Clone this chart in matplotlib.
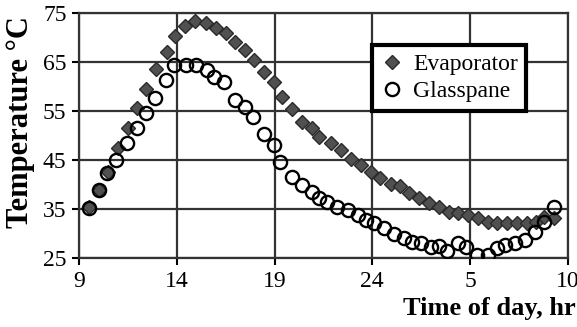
import matplotlib
matplotlib.use("Agg")
import matplotlib.pyplot as plt

# hours since midnight of day 1 (24+ means the next morning)
evap_time = [9.5, 10.0, 10.5, 11.0, 11.5, 11.95, 12.45, 12.95, 13.5, 13.9, 14.4, 14.95,
             15.5, 16.0, 16.5, 17.0, 17.5, 17.95, 18.45, 18.95, 19.4, 19.9, 20.4, 20.9,
             21.3, 21.9, 22.4, 22.9, 23.4, 23.95, 24.4, 24.95, 25.4, 25.9, 26.4, 26.9,
             27.4, 27.9, 28.4, 28.9, 29.4, 29.9, 30.4, 30.9, 31.4, 31.9, 32.4, 32.8, 33.3]
evap_temp = [35.4, 38.9, 42.6, 47.4, 51.5, 55.7, 59.6, 63.5, 67.1, 70.3, 72.3, 73.3,
             72.9, 71.9, 70.9, 69.1, 67.4, 65.4, 63.0, 61.0, 57.9, 55.5, 52.8, 51.5,
             49.8, 48.4, 47.0, 45.3, 44.0, 42.6, 41.3, 40.2, 39.6, 38.2, 37.2, 36.2,
             35.5, 34.4, 34.1, 33.8, 33.1, 32.4, 32.1, 32.1, 32.1, 32.1, 32.4, 33.4, 33.1]

glass_time = [9.5, 10.0, 10.45, 10.9, 11.45, 11.95, 12.45, 12.9, 13.45, 13.85, 14.45, 15.0,
              15.55, 15.9, 16.4, 17.0, 17.5, 17.9, 18.45, 18.95, 19.3, 19.9, 20.4, 20.9,
              21.3, 21.7, 22.2, 22.75, 23.25, 23.7, 24.1, 24.6, 25.1, 25.6, 26.05, 26.5,
              27.0, 27.4, 27.8, 28.4, 28.8, 29.35, 29.9, 30.4, 30.8, 31.3, 31.8, 32.3,
              32.8, 33.3]
glass_temp = [35.2, 38.8, 42.3, 45.0, 48.4, 51.5, 54.5, 57.6, 61.3, 64.5, 64.4, 64.4,
              63.4, 62.0, 61.0, 57.2, 55.9, 53.8, 50.4, 48.1, 44.7, 41.6, 39.9, 38.5,
              37.2, 36.5, 35.5, 34.8, 33.8, 32.8, 32.1, 31.1, 30.0, 29.0, 28.3, 28.0,
              27.3, 27.4, 26.4, 28.0, 27.3, 25.6, 25.6, 27.0, 27.7, 28.0, 28.7, 30.4,
              32.4, 35.5]

xticks = [9, 14, 19, 24, 29, 34]
xtick_labels = ["9", "14", "19", "24", "5", "10"]
yticks = [25, 35, 45, 55, 65, 75]

plt.rcParams["font.family"] = ["Liberation Serif", "DejaVu Serif"]

fig = plt.figure(figsize=(5.77, 3.27), dpi=100)
ax = fig.add_axes([0.137, 0.211, 0.847, 0.749])

ax.plot(evap_time, evap_temp, linestyle="none", marker="D", markersize=7.5,
        markerfacecolor="#505050", markeredgecolor="#2a2a2a", markeredgewidth=1.0,
        label="Evaporator", zorder=3)
ax.plot(glass_time, glass_temp, linestyle="none", marker="o", markersize=9.5,
        markerfacecolor="none", markeredgecolor="black", markeredgewidth=1.7,
        label="Glasspane", zorder=4)

ax.set_xlim(9, 34)
ax.set_ylim(25, 75)
ax.set_xticks(xticks)
ax.set_xticklabels(xtick_labels)
ax.set_yticks(yticks)
ax.tick_params(labelsize=17, length=5, width=1.5, direction="out")
ax.tick_params(axis="x", pad=4)
ax.tick_params(axis="y", pad=4)
ax.grid(True, color="#333333", linewidth=1.6)
ax.set_axisbelow(True)
for s in ax.spines.values():
    s.set_color("#333333")
    s.set_linewidth(1.6)

fig.text(0.036, 0.627, "Temperature \u00b0C", rotation=90, ha="center", va="center",
         fontsize=22, fontweight="bold")
fig.text(0.997, 0.058, "Time of day, hr", ha="right", va="center",
         fontsize=19, fontweight="bold")

leg = ax.legend(loc="upper left", bbox_to_anchor=(0.599, 0.869), fontsize=17,
                frameon=True, fancybox=False, handletextpad=0.4, borderpad=0.35,
                labelspacing=0.25, handlelength=1.0, borderaxespad=0)
leg.get_frame().set_edgecolor("black")
leg.get_frame().set_linewidth(3)
leg.get_frame().set_alpha(1)

fig.savefig("out.png", dpi=100)
